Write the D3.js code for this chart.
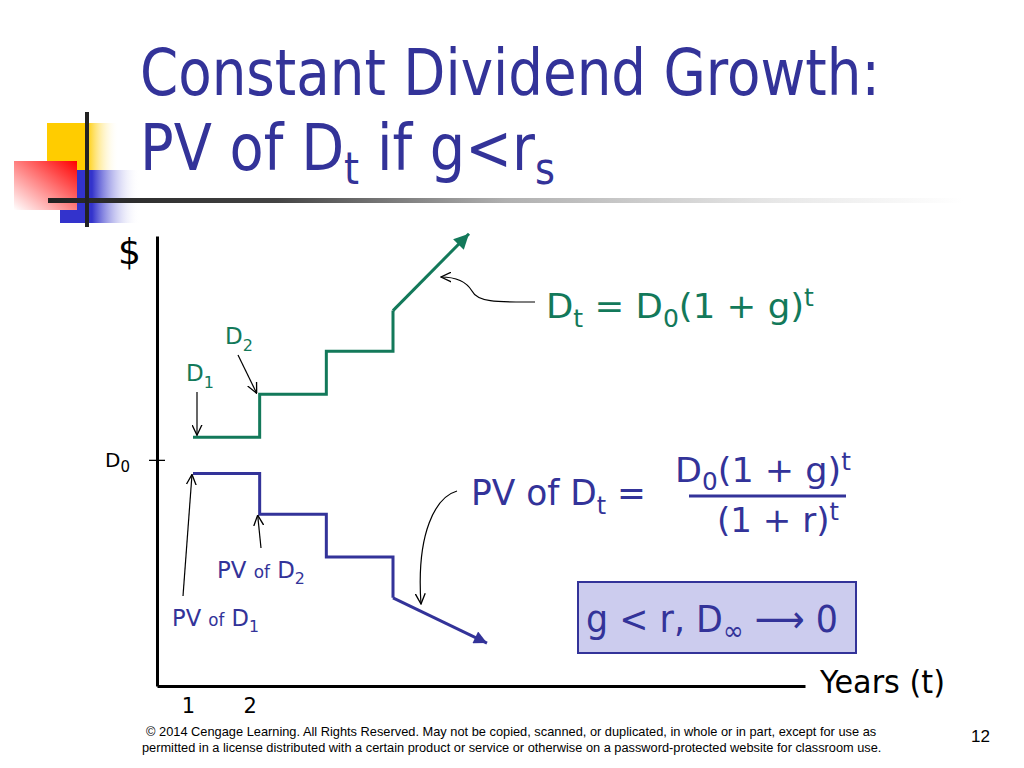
<!DOCTYPE html>
<html>
<head>
<meta charset="utf-8">
<script src="https://cdn.jsdelivr.net/npm/d3@7"></script>
<style>
  html, body { margin: 0; padding: 0; background: #ffffff; }
  svg { display: block; }
</style>
</head>
<body>
<svg id="chart" width="1024" height="768"></svg>
<script>
// ---------------- data ----------------
const years = [1, 2, 3, 4];                       // step start years
const dividendLevels = [1.10, 1.29, 1.48, 1.66];  // D_t (green), in units of D0
const dividendArrowEnd = [5.14, 2.00];            // [year, level] tip of green arrow
const pvLevels = [0.94, 0.76, 0.57, 0.39];        // PV of D_t (blue)
const pvArrowEnd = [5.41, 0.19];                  // [year, level] tip of blue arrow
const xTickValues = [1, 2];
const xTickLabels = ["1", "2"];
const yTickValues = [1];                          // D0 level
const titleLines = ["Constant Dividend Growth:", "PV of D_t if g<r_s"];
const footerLines = [
  "\u00A9 2014 Cengage Learning. All Rights Reserved. May not be copied, scanned, or duplicated, in whole or in part, except for use as",
  "permitted in a license distributed with a certain product or service or otherwise on a password-protected website for classroom use."
];
const pageNumber = "12";

// ---------------- setup ----------------
const BLUE = "#333399", GREEN = "#13795a", BLACK = "#000000";
const FONT = "'DejaVu Sans', Verdana, sans-serif";
const svg = d3.select("#chart");
const defs = svg.append("defs");

// gradients for decoration
function linGrad(id, x1, y1, x2, y2, stops) {
  const g = defs.append("linearGradient").attr("id", id)
    .attr("x1", x1).attr("y1", y1).attr("x2", x2).attr("y2", y2);
  stops.forEach(s => g.append("stop").attr("offset", s[0]).attr("stop-color", s[1]).attr("stop-opacity", s[2] == null ? 1 : s[2]));
}
linGrad("gYellow", 0, 0, 1, 0, [[0, "#ffcc00"], [0.55, "#ffcc00"], [1, "#ffffff", 0]]);
linGrad("gBlue", 0, 0, 1, 0, [[0, "#3333cc"], [0.4, "#3333cc"], [1, "#ffffff", 0]]);
linGrad("gRed", 1, 0, 0, 1, [[0, "#ff0000"], [0.5, "#ff8080"], [1, "#ffffff"]]);
linGrad("gRule", 0, 0, 1, 0, [[0, "#222222"], [0.25, "#444444"], [0.5, "#b0b0b0"], [0.8, "#e8e8e8"], [1, "#ffffff"]]);

// markers
function filledMarker(id, color, w, h) {
  defs.append("marker").attr("id", id)
    .attr("viewBox", "0 0 10 10").attr("refX", 10).attr("refY", 5)
    .attr("markerUnits", "userSpaceOnUse").attr("markerWidth", w).attr("markerHeight", h)
    .attr("orient", "auto")
    .append("path").attr("d", "M0,0 L10,5 L0,10 Z").attr("fill", color);
}
filledMarker("arrowGreen", GREEN, 17, 15);
filledMarker("arrowBlue", BLUE, 16, 13);
defs.append("marker").attr("id", "openArrow")
  .attr("viewBox", "0 0 10 10").attr("refX", 9.5).attr("refY", 5)
  .attr("markerUnits", "userSpaceOnUse").attr("markerWidth", 11).attr("markerHeight", 11)
  .attr("orient", "auto")
  .append("path").attr("d", "M0,0.5 L9.5,5 L0,9.5").attr("fill", "none")
  .attr("stroke", BLACK).attr("stroke-width", 1.2);

// ---------------- decoration ----------------
const deco = svg.append("g");
deco.append("rect").attr("x", 47).attr("y", 123).attr("width", 72).attr("height", 47).attr("fill", "url(#gYellow)");
deco.append("rect").attr("x", 60).attr("y", 170).attr("width", 80).attr("height", 53).attr("fill", "url(#gBlue)");
deco.append("rect").attr("x", 14).attr("y", 161).attr("width", 63).attr("height", 49).attr("fill", "url(#gRed)");
deco.append("rect").attr("x", 48).attr("y", 198).attr("width", 915).attr("height", 5).attr("fill", "url(#gRule)");
deco.append("rect").attr("x", 85).attr("y", 112).attr("width", 4).attr("height", 115).attr("fill", "#222222");

// ---------------- rich text helper ----------------
// parts: [{t, s (font size), sh (baseline shift, + = down)}]
function rich(parent, x, y, parts, opts) {
  opts = opts || {};
  const fill = opts.fill || BLACK;
  const g = parent.append("g");
  const text = g.append("text").attr("x", 0).attr("y", 0)
    .attr("font-family", opts.font || FONT)
    .attr("fill", fill)
    .attr("text-anchor", "start")
    .style("white-space", "pre");
  let prev = 0;
  parts.forEach(p => {
    const sh = p.sh || 0;
    text.append("tspan").attr("dy", sh - prev).attr("font-size", p.s).attr("fill", fill).text(p.t);
    prev = sh;
  });
  let k = 1;
  if (opts.width) {
    const len = text.node().getComputedTextLength();
    if (len > 0) k = opts.width / len;
  }
  g.attr("transform", `translate(${x},${y}) scale(${k},1)`);
  return g;
}

// ---------------- title ----------------
rich(svg, 140, 95, [{ t: titleLines[0], s: 64 }], { fill: BLUE, width: 740 });
const tl2 = titleLines[1].split("_"); // "PV of D", "t if g<r", "s"
rich(svg, 140, 170, [
  { t: tl2[0], s: 64 },
  { t: tl2[1][0], s: 44, sh: 14 },
  { t: tl2[1].slice(1), s: 64 },
  { t: tl2[2], s: 44, sh: 14 }
], { fill: BLUE, width: 415 });

// ---------------- scales & axes ----------------
const x = d3.scaleLinear().domain([0.46, 10.18]).range([157, 805]);
const y = d3.scaleLinear().domain([0, 1.99]).range([686, 236]);

const xAxis = svg.append("g").attr("transform", `translate(0,${y(0)})`)
  .call(d3.axisBottom(x).tickValues(xTickValues).tickSize(0).tickSizeOuter(0)
    .tickFormat((d, i) => xTickLabels[i]));
xAxis.select(".domain").attr("stroke", BLACK).attr("stroke-width", 3);
xAxis.selectAll(".tick text").attr("font-family", FONT).attr("font-size", 21)
  .attr("fill", BLACK).attr("dy", 0).attr("y", 27).attr("dx", (d, i) => i === 0 ? -5 : -10);

const yAxis = svg.append("g").attr("transform", `translate(${x(0.46)},0)`)
  .call(d3.axisLeft(y).tickValues(yTickValues).tickSize(8).tickSizeOuter(0).tickFormat(""));
yAxis.select(".domain").attr("stroke", BLACK).attr("stroke-width", 3);
yAxis.selectAll(".tick line").attr("x1", -8).attr("x2", 8).attr("stroke", BLACK).attr("stroke-width", 1.3);

// axis labels
rich(svg, 118, 264, [{ t: "$", s: 36 }], { fill: BLACK });
rich(svg, 105, y(yTickValues[0]) + 7, [{ t: "D", s: 20 }, { t: "0", s: 15, sh: 5 }], { fill: BLACK });
rich(svg, 820, 693, [{ t: "Years (t)", s: 32 }], { fill: BLACK, width: 125 });

// ---------------- series ----------------
const stepLine = d3.line().x(d => x(d[0])).y(d => y(d[1])).curve(d3.curveStepAfter);

function series(levels, arrowEnd, color, marker) {
  const pts = years.map((t, i) => [t, levels[i]]);
  svg.append("path").attr("d", stepLine(pts)).attr("fill", "none")
    .attr("stroke", color).attr("stroke-width", 3).attr("stroke-linejoin", "miter");
  const last = pts[pts.length - 1];
  svg.append("line")
    .attr("x1", x(last[0])).attr("y1", y(last[1]))
    .attr("x2", x(arrowEnd[0])).attr("y2", y(arrowEnd[1]))
    .attr("stroke", color).attr("stroke-width", 3)
    .attr("marker-end", `url(#${marker})`);
}
series(dividendLevels, dividendArrowEnd, GREEN, "arrowGreen");
series(pvLevels, pvArrowEnd, BLUE, "arrowBlue");

// ---------------- annotation arrows ----------------
function arrowPath(d) {
  svg.append("path").attr("d", d).attr("fill", "none").attr("stroke", BLACK)
    .attr("stroke-width", 1.2).attr("marker-end", "url(#openArrow)");
}
const g1 = [x(years[0]), y(dividendLevels[0])];
const g2 = [x(years[1]), y(dividendLevels[1])];
const b1 = [x(years[0]), y(pvLevels[0])];
const b2 = [x(years[1]), y(pvLevels[1])];
arrowPath(`M${g1[0] + 4},392 L${g1[0] + 4},${g1[1] - 2}`);
arrowPath(`M238,355 L${g2[0] - 3},${g2[1] - 1}`);
arrowPath(`M183,596 L${b1[0] - 1},${b1[1] + 1}`);
arrowPath(`M261,548 L${b2[0] - 2},${b2[1] + 1}`);
arrowPath("M457,491 C436,497 416,532 421,604");
arrowPath("M535,302 C500,302 478,303 472,291 C466,281 456,277 441,277");

// ---------------- series labels ----------------
rich(svg, 186, 381, [{ t: "D", s: 23 }, { t: "1", s: 16, sh: 7 }], { fill: GREEN });
rich(svg, 225, 344, [{ t: "D", s: 23 }, { t: "2", s: 16, sh: 7 }], { fill: GREEN });
rich(svg, 217, 578, [{ t: "PV ", s: 23 }, { t: "of", s: 17 }, { t: " D", s: 23 }, { t: "2", s: 16, sh: 6 }], { fill: BLUE, width: 88 });
rich(svg, 172, 626, [{ t: "PV ", s: 23 }, { t: "of", s: 17 }, { t: " D", s: 23 }, { t: "1", s: 16, sh: 6 }], { fill: BLUE, width: 87 });

// formula: D_t = D_0(1 + g)^t
rich(svg, 546, 318, [
  { t: "D", s: 34 }, { t: "t", s: 24, sh: 9 }, { t: " = D", s: 34 }, { t: "0", s: 24, sh: 9 },
  { t: "(1 + g)", s: 34 }, { t: "t", s: 24, sh: -12 }
], { fill: GREEN, width: 268 });

// PV of D_t = fraction
rich(svg, 471, 505, [{ t: "PV of D", s: 36 }, { t: "t", s: 25, sh: 9 }, { t: " =", s: 36 }], { fill: BLUE, width: 175 });
rich(svg, 675, 482, [
  { t: "D", s: 34 }, { t: "0", s: 24, sh: 8 }, { t: "(1 + g)", s: 34 }, { t: "t", s: 24, sh: -12 }
], { fill: BLUE, width: 176 });
svg.append("line").attr("x1", 689).attr("x2", 846).attr("y1", 496).attr("y2", 496)
  .attr("stroke", BLUE).attr("stroke-width", 3);
rich(svg, 717, 532, [{ t: "(1 + r)", s: 34 }, { t: "t", s: 24, sh: -12 }], { fill: BLUE, width: 122 });

// box
svg.append("rect").attr("x", 578).attr("y", 582).attr("width", 278).attr("height", 71)
  .attr("fill", "#ccccee").attr("stroke", BLUE).attr("stroke-width", 2);
rich(svg, 586, 632, [
  { t: "g < r, D", s: 38 }, { t: "\u221E", s: 27, sh: 8 }, { t: " \u27F6 0", s: 38, sh: 0 }
], { fill: BLUE, width: 252 });

// ---------------- footer ----------------
const FF = "'Liberation Sans', Arial, sans-serif";
rich(svg, 146, 736, [{ t: footerLines[0], s: 12 }], { fill: BLACK, font: FF, width: 731 });
rich(svg, 142, 752, [{ t: footerLines[1], s: 12 }], { fill: BLACK, font: FF, width: 740 });
rich(svg, 971, 742, [{ t: pageNumber, s: 17 }], { fill: BLACK, font: FF, width: 19 });
</script>
</body>
</html>
